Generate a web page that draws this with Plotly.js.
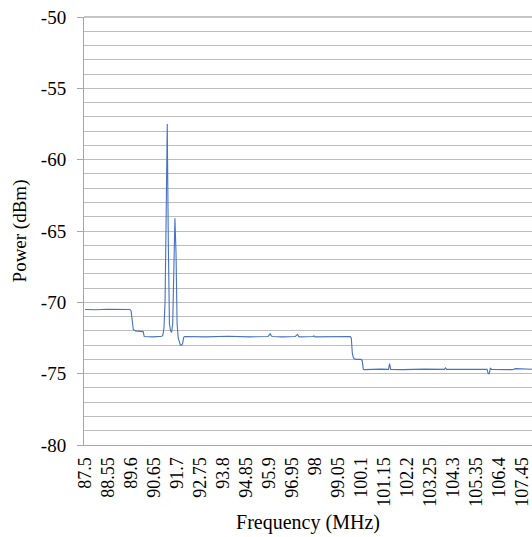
<!DOCTYPE html>
<html>
<head>
<meta charset="utf-8">
<script src="https://cdn.plot.ly/plotly-3.0.1.min.js"></script>
<style>html,body{margin:0;padding:0;background:#fff;}#chart{width:532px;height:537px;}</style>
</head>
<body>
<div id="chart"></div>
<script>
// Frequency (MHz) sample points
const freq = [87.5, 88.0, 88.5, 89.0, 89.55, 89.6, 89.65, 89.7, 89.8, 90.1, 90.15, 90.2, 90.6, 91.0,
  91.05, 91.1, 91.15, 91.2, 91.25, 91.3, 91.35, 91.4, 91.45, 91.5, 91.55, 91.6, 91.65, 91.7,
  91.75, 91.8, 91.85, 91.9, 91.95, 92.0, 92.05, 93.0, 94.0, 95.0, 95.85, 95.9, 95.95, 96.0,
  96.05, 96.5, 97.1, 97.15, 97.2, 97.25, 97.3, 97.9, 97.95, 98.0, 99.0, 99.6, 99.65, 99.7,
  99.75, 99.85, 100.1, 100.15, 100.2, 100.25, 101.0, 101.35, 101.4, 101.45, 102.0, 103.0,
  103.9, 103.95, 104.0, 105.0, 105.85, 105.9, 105.95, 106.0, 106.05, 107.0, 107.1, 107.15, 108.0];
// Power (dBm)
const power = [-70.5, -70.52, -70.48, -70.5, -70.5, -70.6, -71.5, -71.9, -72.0, -72.0,
  -72.05, -72.4, -72.42, -72.38, -72.3, -71.8, -70.0, -64.0, -57.5, -66.0, -71.5, -72.0,
  -72.1, -71.5, -68.0, -64.1, -66.5, -71.5, -72.5, -72.7, -73.0, -73.0, -72.9, -72.45,
  -72.4, -72.42, -72.38, -72.42, -72.4, -72.3, -72.2, -72.35, -72.4, -72.42, -72.4, -72.3,
  -72.25, -72.4, -72.42, -72.4, -72.35, -72.42, -72.4, -72.4, -72.5, -73.6, -73.9, -74.0,
  -74.0, -74.1, -74.7, -74.72, -74.68, -74.7, -74.3, -74.7, -74.72, -74.68, -74.7, -74.6,
  -74.7, -74.72, -74.7, -75.0, -75.0, -74.6, -74.7, -74.72, -74.7, -74.65, -74.7];
// Category tick labels
const tickLabels = ["87.5", "88.55", "89.6", "90.65", "91.7", "92.75", "93.8", "94.85", "95.9",
  "96.95", "98", "99.05", "100.1", "101.15", "102.2", "103.25", "104.3", "105.35", "106.4", "107.45"];
const tickValues = tickLabels.map(Number);
// Power axis labels (hyphen-minus as in the reference)
const yTickLabels = ["-80", "-75", "-70", "-65", "-60", "-55", "-50"];
const yTickValues = yTickLabels.map(Number);

const serif = "Liberation Serif, Times New Roman, serif";

const trace = {
  x: freq, y: power, type: "scatter", mode: "lines",
  line: {color: "#4472C4", width: 1.1}, hoverinfo: "x+y"
};

const layout = {
  width: 532, height: 537,
  margin: {l: 84, r: 0, t: 17, b: 92},
  paper_bgcolor: "#fff", plot_bgcolor: "#fff",
  showlegend: false,
  font: {family: serif, color: "#000", size: 18},
  xaxis: {
    range: [87.45, 107.9],
    tickmode: "array", tickvals: tickValues, ticktext: tickLabels,
    tickangle: -90, tickfont: {family: serif, size: 18, color: "#000"},
    showgrid: false, zeroline: false,
    showline: true, linecolor: "#a6a6a6", linewidth: 1,
    ticks: "", ticklabelstandoff: 4,
    automargin: false,
    title: {text: "Frequency (MHz)", font: {family: serif, size: 20, color: "#000"}, standoff: 9}
  },
  yaxis: {
    range: [-80, -50],
    tickmode: "array", tickvals: yTickValues, ticktext: yTickLabels,
    tickfont: {family: serif, size: 19, color: "#000"},
    showgrid: true, gridcolor: "#bdbdbd", gridwidth: 1,
    minor: {dtick: 1, tick0: -80, showgrid: true, gridcolor: "#bdbdbd", gridwidth: 1},
    zeroline: false,
    showline: true, linecolor: "#a6a6a6", linewidth: 1,
    ticks: "outside", ticklen: 6, tickcolor: "#a6a6a6", ticklabelstandoff: 7,
    automargin: false,
    title: {text: "Power (dBm)", font: {family: serif, size: 19, color: "#000"}, standoff: 9}
  },
  shapes: [{type: "line", xref: "paper", yref: "paper", x0: 0, x1: 1, y0: 1, y1: 1,
    line: {color: "#8c8c8c", width: 1}}]
};

Plotly.newPlot("chart", [trace], layout, {displayModeBar: false, staticPlot: true});
</script>
</body>
</html>
